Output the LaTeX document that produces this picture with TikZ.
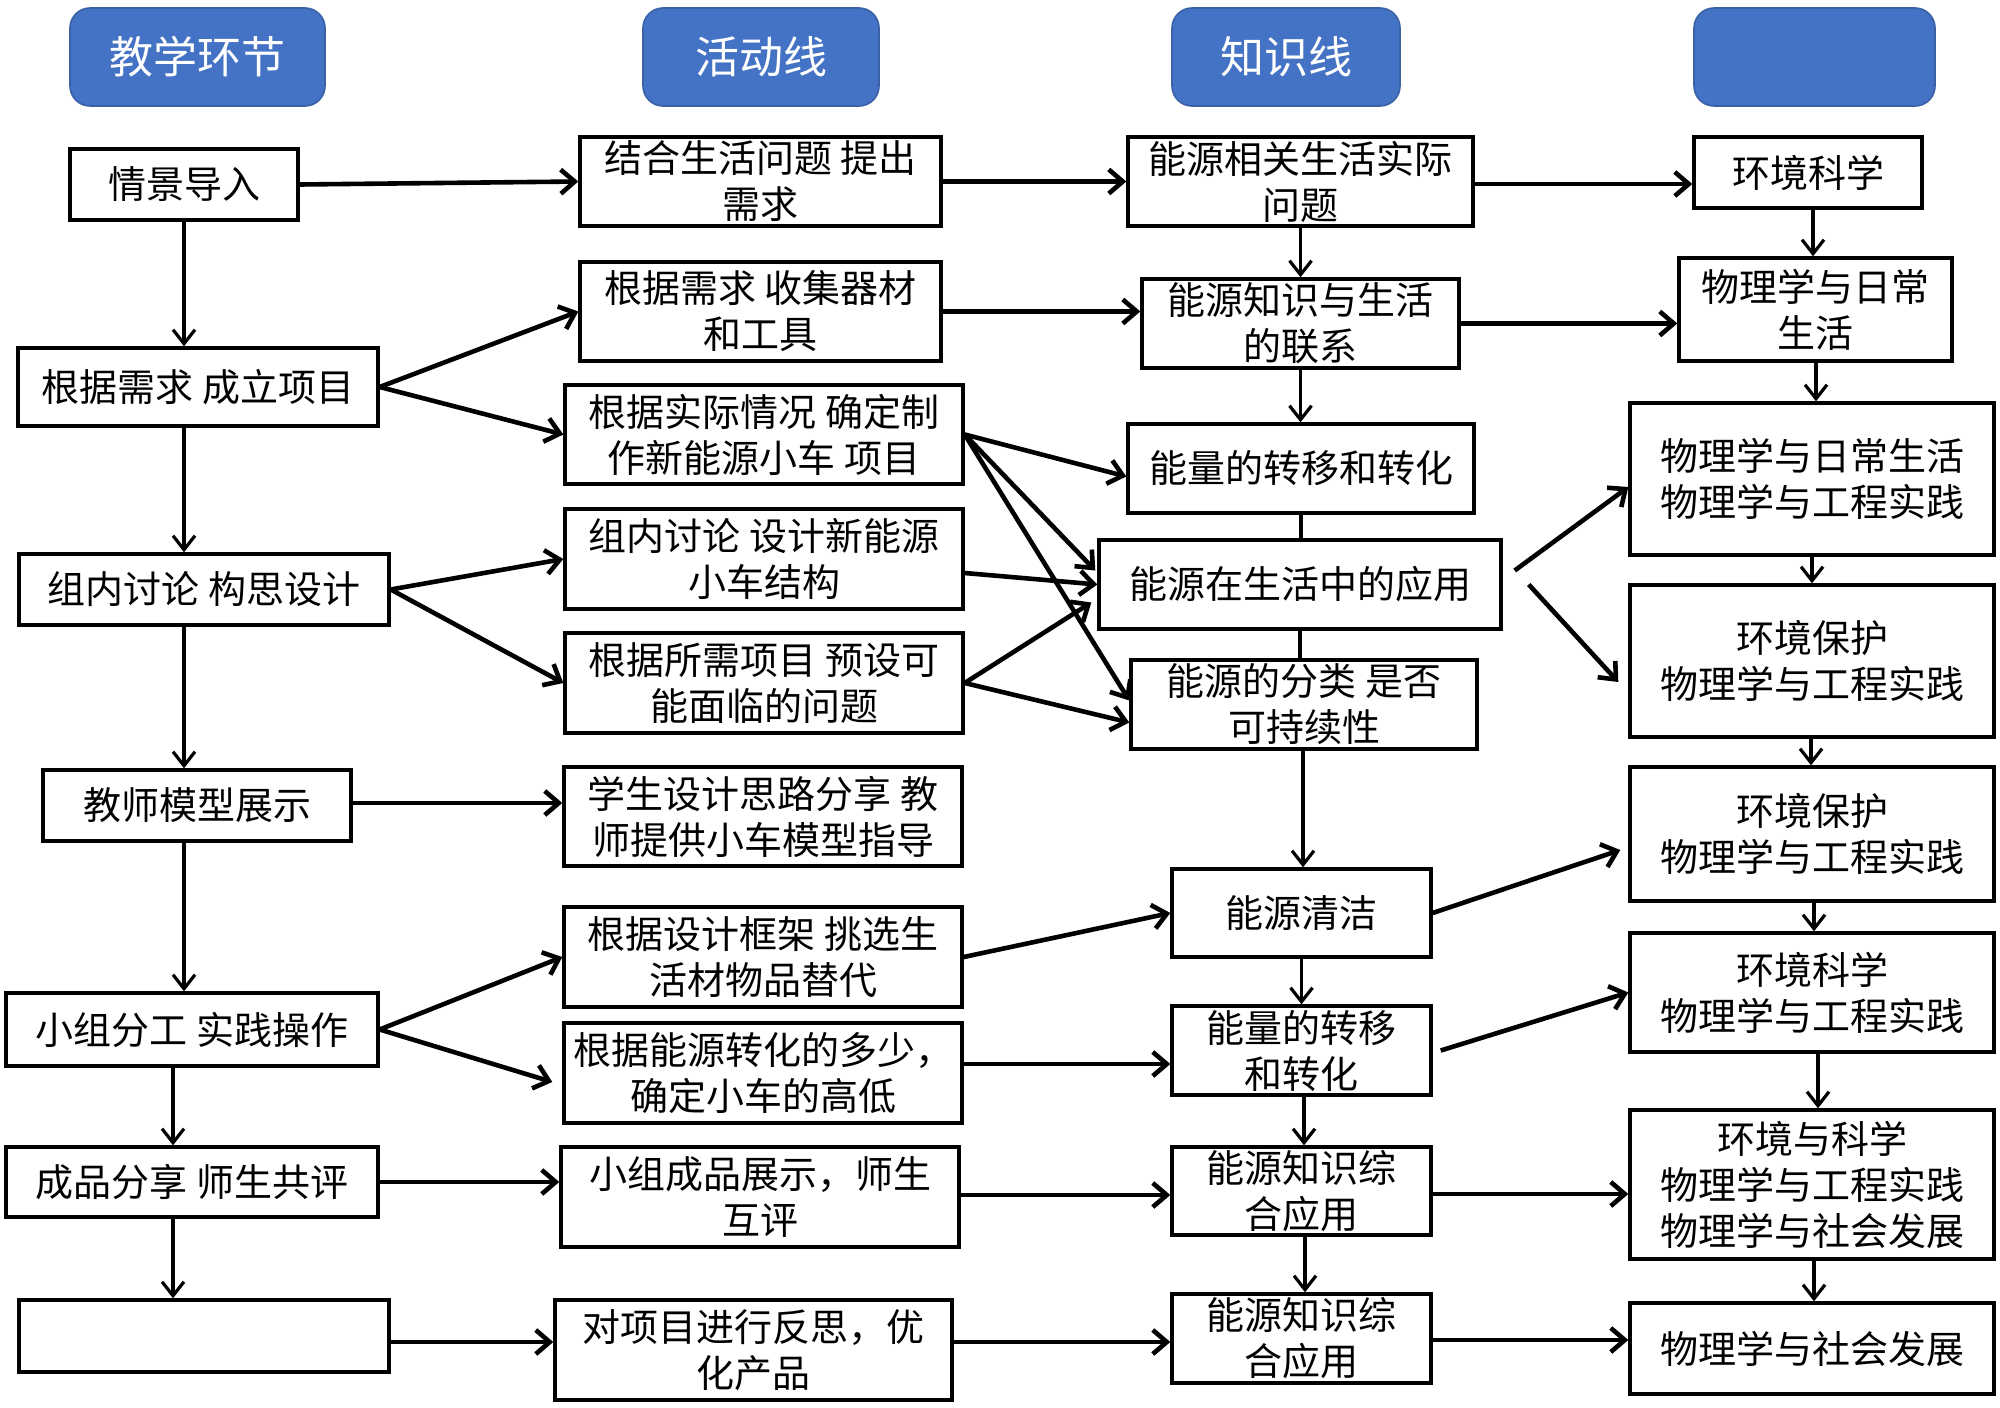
\documentclass[tikz,border=0pt]{standalone}
\usepackage{fontspec}
\setmainfont{Noto Sans CJK SC}
\usetikzlibrary{arrows.meta}
\definecolor{hdrblue}{HTML}{4472C4}
\newcommand\bx[7][box]{\node[#1, minimum width={(#5-#3)*0.5pt}, minimum height={(#6-#4)*0.5pt}] (#2) at ({(#3+#5)/2},{(#4+#6)/2}) {#7};}
\begin{document}
\begin{tikzpicture}[x=0.5pt,y=-0.5pt,
  box/.style={draw, line width=1.7pt, inner sep=0pt, align=center, font=\fontsize{19}{23}\selectfont},
  hdr/.style={fill=hdrblue, draw=hdrblue!85!black, line width=0.8pt, rounded corners=10pt, inner sep=0pt, text=white, font=\fontsize{22}{26}\selectfont},
  arr/.style={line width=2.3pt, -{Straight Barb[length=7pt,width=12pt]}},
  thin/.style={line width=1.6pt, -{Straight Barb[length=7pt,width=11pt]}},
  plain/.style={line width=1.6pt}]
\useasboundingbox[fill=white] (0,0) rectangle (2000,1407);
% headers
\bx[hdr]{h1}{70}{8}{325}{106}{教学环节}
\bx[hdr]{h2}{643}{8}{879}{106}{活动线}
\bx[hdr]{h3}{1172}{8}{1400}{106}{知识线}
\bx[hdr]{h4}{1694}{8}{1935}{106}{}
% column 1
\bx{c1}{70}{149}{298}{220}{情景导入}
\bx{c2}{18}{348}{378}{426}{根据需求 成立项目}
\bx{c3}{19}{554}{389}{625}{组内讨论 构思设计}
\bx{c4}{43}{770}{351}{841}{教师模型展示}
\bx{c5}{6}{993}{378}{1066}{小组分工 实践操作}
\bx{c6}{6}{1147}{378}{1217}{成品分享 师生共评}
\bx{c7}{19}{1300}{389}{1372}{}
% column 2
\bx{a1}{580}{137}{941}{226}{结合生活问题 提出\\需求}
\bx{a2}{580}{262}{941}{361}{根据需求 收集器材\\和工具}
\bx{a3}{565}{385}{963}{484}{根据实际情况 确定制\\作新能源小车 项目}
\bx{a4}{565}{509}{963}{609}{组内讨论 设计新能源\\小车结构}
\bx{a5}{565}{633}{963}{733}{根据所需项目 预设可\\能面临的问题}
\bx{a6}{564}{767}{962}{866}{学生设计思路分享 教\\师提供小车模型指导}
\bx{a7}{564}{907}{962}{1007}{根据设计框架 挑选生\\活材物品替代}
\bx{a8}{564}{1023}{962}{1123}{根据能源转化的多少，\\确定小车的高低}
\bx{a9}{561}{1147}{959}{1247}{小组成品展示，师生\\互评}
\bx{a10}{555}{1300}{952}{1400}{对项目进行反思，优\\化产品}
% column 3
\bx{k1}{1128}{137}{1473}{226}{能源相关生活实际\\问题}
\bx{k2}{1142}{279}{1459}{368}{能源知识与生活\\的联系}
\bx{k3}{1128}{424}{1474}{513}{能量的转移和转化}
\bx{k4}{1099}{540}{1501}{629}{能源在生活中的应用}
\bx{k5}{1131}{660}{1477}{749}{能源的分类 是否\\可持续性}
\bx{k6}{1172}{869}{1431}{957}{能源清洁}
\bx{k7}{1172}{1006}{1431}{1095}{能量的转移\\和转化}
\bx{k8}{1172}{1147}{1431}{1235}{能源知识综\\合应用}
\bx{k9}{1172}{1294}{1431}{1383}{能源知识综\\合应用}
% column 4
\bx{r1}{1694}{137}{1922}{208}{环境科学}
\bx{r2}{1679}{258}{1952}{361}{物理学与日常\\生活}
\bx{r3}{1630}{403}{1994}{555}{物理学与日常生活\\物理学与工程实践}
\bx{r4}{1630}{585}{1994}{737}{环境保护\\物理学与工程实践}
\bx{r5}{1630}{767}{1994}{901}{环境保护\\物理学与工程实践}
\bx{r6}{1630}{933}{1994}{1052}{环境科学\\物理学与工程实践}
\bx{r7}{1630}{1110}{1994}{1259}{环境与科学\\物理学与工程实践\\物理学与社会发展}
\bx{r8}{1630}{1303}{1994}{1394}{物理学与社会发展}
% column 1 verticals
\draw[thin] (c1.south) -- (c1.south |- c2.north);
\draw[thin] (c2.south -| c1.south) -- (c3.north -| c1.south);
\draw[thin] (c3.south -| c1.south) -- (c4.north -| c1.south);
\draw[thin] (c4.south -| c1.south) -- (c5.north -| c1.south);
\draw[thin] (c5.south -| 173,0) -- (c6.north -| 173,0);
\draw[thin] (c6.south -| 173,0) -- (c7.north -| 173,0);
% column 1 -> column 2
\draw[arr] (c1.east) -- (a1.west);
\draw[arr] (c2.east) -- (a2.west);
\draw[arr] (c2.east) -- (a3.west);
\draw[arr] (c3.east) -- (a4.west);
\draw[arr] (c3.east) -- (a5.west);
\draw[arr] (c4.east |- 0,803) -- (a6.west |- 0,803);
\draw[arr] (c5.east) -- (a7.west);
\draw[arr] (c5.east) -- ([xshift=-5pt,yshift=-4.5pt]a8.west);
\draw[arr] (c6.east) -- (c6.east -| a9.west);
\draw[arr] (c7.east |- 0,1342) -- (a10.west |- 0,1342);
% column 2 -> column 3
\draw[arr] (a1.east) -- (a1.east -| k1.west);
\draw[arr] (a2.east) -- (a2.east -| k2.west);
\draw[arr] (a3.east) -- ([yshift=-4pt]k3.west);
\draw[arr] (a3.east) -- ([xshift=-1pt,yshift=7pt]k4.west);
\draw[arr] (a3.east) -- ([yshift=2pt]k5.west);
\draw[arr] ([yshift=-7pt]a4.east) -- (k4.west);
\draw[arr] (a5.east) -- ([xshift=-3pt,yshift=-9pt]k4.west);
\draw[arr] (a5.east) -- ([yshift=-9pt]k5.west);
\draw[arr] (a7.east) -- (k6.west);
\draw[arr] (a8.east |- 0,1064) -- (k7.west |- 0,1064);
\draw[arr] (a9.east |- 0,1195) -- (k8.west |- 0,1195);
\draw[arr] (a10.east |- 0,1342) -- (k9.west |- 0,1342);
% column 3 verticals
\draw[thin] (k1.south) -- (k1.south |- k2.north);
\draw[thin] (k2.south) -- (k2.south |- k3.north);
\draw[plain] (k3.south) -- (k3.south |- k4.north);
\draw[plain] (k4.south) -- (k4.south |- k5.north);
\draw[thin] (k5.south -| 1303,0) -- (k6.north -| 1303,0);
\draw[thin] (k6.south) -- (k7.north);
\draw[thin] (k7.south -| 1304,0) -- (k8.north -| 1304,0);
\draw[thin] (k8.south -| 1305,0) -- (k9.north -| 1305,0);
% column 3 -> column 4
\draw[arr] (k1.east |- 0,184) -- (r1.west |- 0,184);
\draw[arr] (k2.east) -- (k2.east -| r2.west);
\draw[arr] ([xshift=6pt,yshift=7pt]k4.east) -- ([yshift=-4pt]r3.west);
\draw[arr] ([xshift=13pt]k4.east) -- ([xshift=-5pt,yshift=-10.5pt]r4.west);
\draw[arr] (k6.east) -- ([xshift=-4pt,yshift=-8pt]r5.west);
\draw[arr] ([xshift=4pt]k7.east) -- (r6.west);
\draw[arr] (k8.east |- 0,1194) -- (r7.west |- 0,1194);
\draw[arr] (k9.east |- 0,1340) -- (r8.west |- 0,1340);
% column 4 verticals
\draw[thin] (r1.south -| 1813,0) -- (r2.north -| 1813,0);
\draw[thin] (r2.south -| 1816,0) -- (r3.north -| 1816,0);
\draw[thin] (r3.south -| 1812,0) -- (r4.north -| 1812,0);
\draw[thin] (r4.south -| 1811,0) -- (r5.north -| 1811,0);
\draw[thin] (r5.south -| 1814,0) -- (r6.north -| 1814,0);
\draw[thin] (r6.south -| 1818,0) -- (r7.north -| 1818,0);
\draw[thin] (r7.south -| 1814,0) -- (r8.north -| 1814,0);
\end{tikzpicture}
\end{document}
